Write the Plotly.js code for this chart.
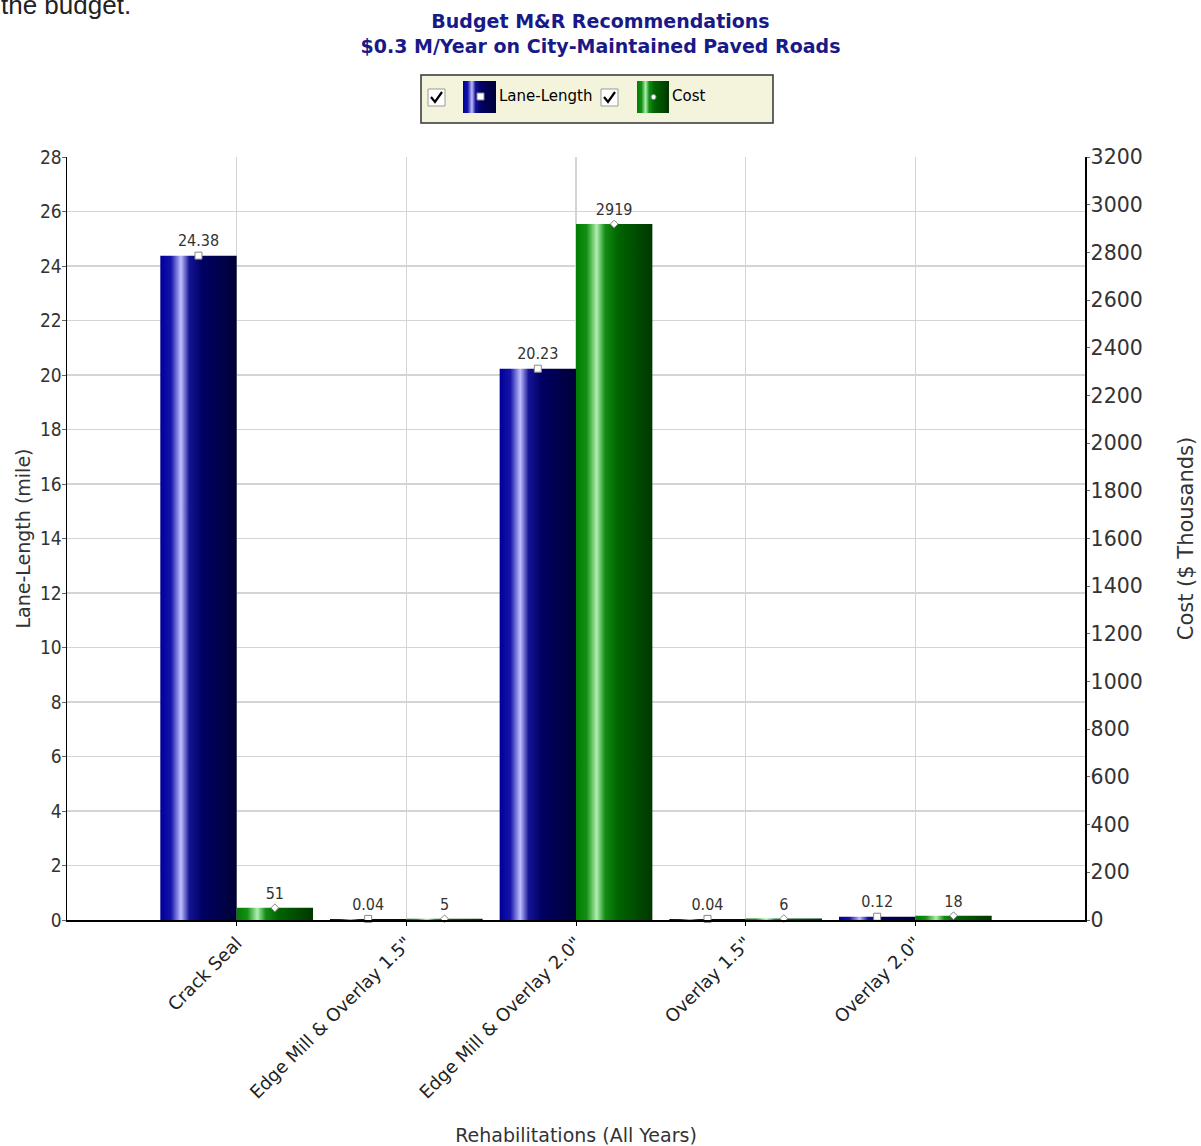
<!DOCTYPE html>
<html><head><meta charset="utf-8">
<script src="https://cdn.plot.ly/plotly-3.0.1.min.js"></script>
<style>body{margin:0;background:#fff}</style>
</head><body>
<div id="chart" style="width:1201px;height:1146px"></div>
<script>
// ---- data ----
const categories = ['Crack Seal', 'Edge Mill & Overlay 1.5"', 'Edge Mill & Overlay 2.0"', 'Overlay 1.5"', 'Overlay 2.0"'];
const laneLength = [24.38, 0.04, 20.23, 0.04, 0.12];
const cost = [51, 5, 2919, 6, 18];
const seriesNames = ['Lane-Length', 'Cost'];
const chartTitle = 'Budget M&R Recommendations<br>$0.3 M/Year on City-Maintained Paved Roads';
const leftTitle = 'Lane-Length (mile)';
const rightTitle = 'Cost ($ Thousands)';
const xTitle = 'Rehabilitations (All Years)';
const captionText = 'the budget.';

// ---- layout helpers (pixels -> paper) ----
const PL = 67, PR = 1085, PT = 157, PB = 920;
const X = px => (px - PL) / (PR - PL);
const Y = py => (PB - py) / (PB - PT);

const idx = categories.map((_, i) => i);
const BW = 0.45;

const traces = [
  {type: 'bar', name: seriesNames[0], x: idx, y: laneLength, width: BW, offset: -BW,
   marker: {color: 'rgb(0,0,120)', line: {width: 0}}, yaxis: 'y', showlegend: false, hoverinfo: 'x+y'},
  {type: 'bar', name: seriesNames[1], x: idx, y: cost, width: BW, offset: 0,
   marker: {color: 'rgb(0,100,0)', line: {width: 0}}, yaxis: 'y2', showlegend: false, hoverinfo: 'x+y'},
  {type: 'scatter', mode: 'markers+text', x: idx.map(i => i - BW / 2), y: laneLength,
   text: laneLength.map(String), textposition: 'top center', cliponaxis: false,
   textfont: {family: 'DejaVu Sans Condensed, DejaVu Sans', size: 16, color: '#333'},
   marker: {symbol: 'square', size: 7, color: '#fff', line: {color: '#888', width: 1}},
   yaxis: 'y', showlegend: false, hoverinfo: 'skip'},
  {type: 'scatter', mode: 'markers+text', x: idx.map(i => i + BW / 2), y: cost,
   text: cost.map(String), textposition: 'top center', cliponaxis: false,
   textfont: {family: 'DejaVu Sans Condensed, DejaVu Sans', size: 16, color: '#333'},
   marker: {symbol: 'diamond', size: 6, color: '#fff', line: {color: '#888', width: 1}},
   yaxis: 'y2', showlegend: false, hoverinfo: 'skip'}
];

const boxY0 = Y(123), boxY1 = Y(75);
const chkY0 = Y(106), chkY1 = Y(89);
const shapes = [
  {type: 'rect', xref: 'paper', yref: 'paper', x0: X(421), x1: X(773), y0: boxY0, y1: boxY1,
   fillcolor: 'rgb(244,244,221)', line: {color: '#333', width: 1.5}},
  {type: 'rect', xref: 'paper', yref: 'paper', x0: X(428), x1: X(445), y0: chkY0, y1: chkY1,
   fillcolor: '#fff', line: {color: '#999', width: 1}},
  {type: 'path', xref: 'paper', yref: 'paper',
   path: `M ${X(431)} ${Y(97)} L ${X(435)} ${Y(102)} L ${X(442)} ${Y(92)}`, line: {color: '#000', width: 2.2}},
  {type: 'rect', xref: 'paper', yref: 'paper', x0: X(463), x1: X(496), y0: Y(113), y1: Y(81),
   fillcolor: 'rgb(0,0,139)', line: {width: 0}},
  {type: 'rect', xref: 'paper', yref: 'paper', x0: X(477), x1: X(484), y0: Y(100), y1: Y(93),
   fillcolor: '#fff', line: {color: '#888', width: 1}},
  {type: 'rect', xref: 'paper', yref: 'paper', x0: X(601), x1: X(618), y0: chkY0, y1: chkY1,
   fillcolor: '#fff', line: {color: '#999', width: 1}},
  {type: 'path', xref: 'paper', yref: 'paper',
   path: `M ${X(604)} ${Y(97)} L ${X(608)} ${Y(102)} L ${X(615)} ${Y(92)}`, line: {color: '#000', width: 2.2}},
  {type: 'rect', xref: 'paper', yref: 'paper', x0: X(637), x1: X(669), y0: Y(113), y1: Y(81),
   fillcolor: 'rgb(0,128,0)', line: {width: 0}},
  {type: 'circle', xref: 'paper', yref: 'paper', x0: X(651), x1: X(656), y0: Y(99.5), y1: Y(94.5),
   fillcolor: '#fff', line: {color: '#888', width: 1}}
];

const annotations = [
  {text: seriesNames[0], xref: 'paper', yref: 'paper', x: X(497), y: Y(96), xanchor: 'left', yanchor: 'middle',
   showarrow: false, font: {family: 'DejaVu Sans', size: 15, color: '#000'}},
  {text: seriesNames[1], xref: 'paper', yref: 'paper', x: X(670), y: Y(96), xanchor: 'left', yanchor: 'middle',
   showarrow: false, font: {family: 'DejaVu Sans', size: 15, color: '#000'}},
  {text: captionText, xref: 'paper', yref: 'paper', x: X(-1), y: Y(5), xanchor: 'left', yanchor: 'middle',
   showarrow: false, font: {family: 'Liberation Sans, Arial', size: 26, color: '#222'}}
];

const layout = {
  width: 1201, height: 1146,
  margin: {l: PL, r: 1201 - PR, t: PT, b: 1146 - PB, pad: 0},
  paper_bgcolor: '#fff', plot_bgcolor: '#fff',
  barmode: 'overlay',
  showlegend: false,
  title: {text: '<b>' + chartTitle + '</b>', x: 0.5, xanchor: 'center', xref: 'container',
          y: 1 - 28 / 1146, yanchor: 'top', yref: 'container',
          font: {family: 'DejaVu Sans', size: 19, color: 'rgb(25,25,135)'}},
  xaxis: {range: [-1, 5], tickvals: idx, ticktext: categories, tickangle: -45,
          showgrid: true, gridcolor: '#d4d4d4', gridwidth: 1.5, zeroline: false,
          showline: true, linecolor: '#000', linewidth: 1.5,
          ticks: 'outside', ticklen: 4, tickcolor: '#000',
          tickfont: {family: 'DejaVu Sans', size: 18, color: '#222'},
          title: {text: xTitle, standoff: 30, font: {family: 'DejaVu Sans', size: 19, color: '#333'}}},
  yaxis: {range: [0, 28], dtick: 2, tick0: 0, showgrid: true, gridcolor: '#d4d4d4', gridwidth: 1.5,
          zeroline: false, showline: true, linecolor: '#000', linewidth: 1.5,
          ticks: 'outside', ticklen: 4, tickcolor: '#666', ticklabelstandoff: -4,
          tickfont: {family: 'DejaVu Sans Condensed, DejaVu Sans', size: 19, color: '#333'},
          title: {text: leftTitle, standoff: 4, font: {family: 'DejaVu Sans', size: 19, color: '#333'}}},
  yaxis2: {range: [0, 3200], dtick: 200, tick0: 0, overlaying: 'y', side: 'right', showgrid: false,
           zeroline: false, showline: true, linecolor: '#000', linewidth: 1.5,
           ticks: 'outside', ticklen: 3, tickcolor: '#666', ticklabelstandoff: -3,
           tickfont: {family: 'DejaVu Sans', size: 20.5, color: '#333'},
           title: {text: rightTitle, standoff: 36, font: {family: 'DejaVu Sans', size: 21, color: '#333'}}},
  shapes: shapes,
  annotations: annotations
};

function addGradient(svg, id, stops) {
  const ns = 'http://www.w3.org/2000/svg';
  let defs = svg.querySelector('defs');
  if (!defs) { defs = document.createElementNS(ns, 'defs'); svg.insertBefore(defs, svg.firstChild); }
  const g = document.createElementNS(ns, 'linearGradient');
  g.setAttribute('id', id);
  g.setAttribute('x1', '0'); g.setAttribute('x2', '1'); g.setAttribute('y1', '0'); g.setAttribute('y2', '0');
  stops.forEach(([o, c]) => {
    const s = document.createElementNS(ns, 'stop');
    s.setAttribute('offset', o); s.setAttribute('stop-color', c);
    g.appendChild(s);
  });
  defs.appendChild(g);
}

Plotly.newPlot('chart', traces, layout, {displayModeBar: false, staticPlot: true}).then(gd => {
  const svg = gd.querySelector('svg.main-svg');
  addGradient(svg, 'gBlue', [['0', 'rgb(0,0,150)'], ['0.14', 'rgb(20,20,170)'], ['0.27', 'rgb(190,190,255)'],
    ['0.38', 'rgb(20,20,150)'], ['0.55', 'rgb(0,0,100)'], ['1', 'rgb(0,0,55)']]);
  addGradient(svg, 'gGreen', [['0', 'rgb(0,125,0)'], ['0.14', 'rgb(20,145,20)'], ['0.27', 'rgb(175,240,175)'],
    ['0.38', 'rgb(20,140,20)'], ['0.55', 'rgb(0,100,0)'], ['1', 'rgb(0,55,0)']]);
  const barTraces = gd.querySelectorAll('.barlayer .trace');
  barTraces.forEach((t, k) => {
    t.querySelectorAll('path').forEach(p => { p.style.fill = k === 0 ? 'url(#gBlue)' : 'url(#gGreen)'; });
  });
  gd.querySelectorAll('.shapelayer path').forEach(p => {
    const f = p.style.fill || '';
    if (f.replace(/\s/g, '') === 'rgb(0,0,139)') p.style.fill = 'url(#gBlue)';
    if (f.replace(/\s/g, '') === 'rgb(0,128,0)') p.style.fill = 'url(#gGreen)';
  });
});
</script>
</body></html>
